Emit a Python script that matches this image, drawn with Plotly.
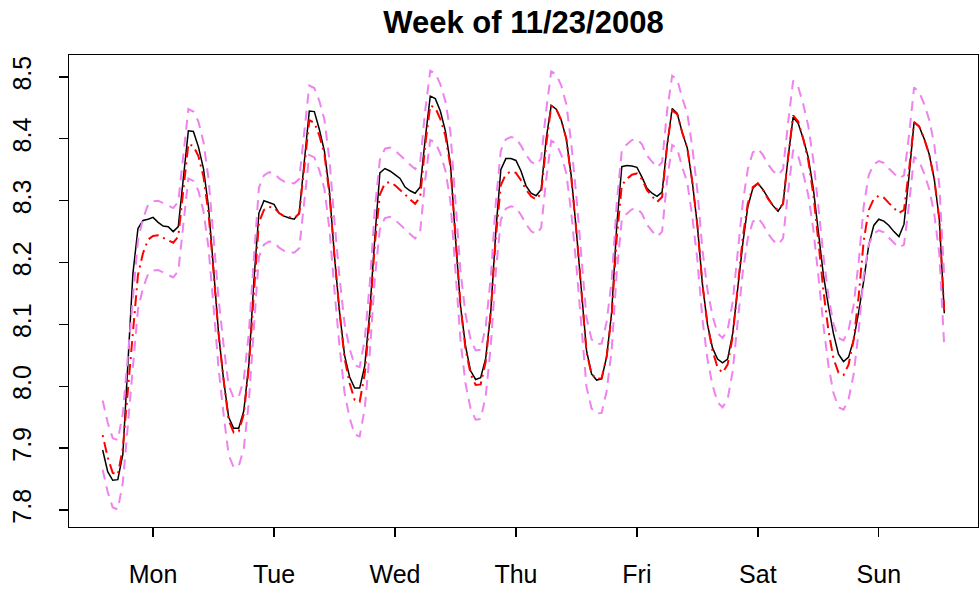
import plotly.graph_objects as go

# Hour index within the week (hourly observations)
hours = list(range(168))

day_ticks = [10, 34, 58, 82, 106, 130, 154]
day_labels = ["Mon", "Tue", "Wed", "Thu", "Fri", "Sat", "Sun"]
y_ticks = [7.8, 7.9, 8.0, 8.1, 8.2, 8.3, 8.4, 8.5]

actual = [
    7.897, 7.862, 7.848, 7.849, 7.890, 8.040, 8.182, 8.255, 8.268, 8.270, 8.273, 8.265,
    8.259, 8.258, 8.250, 8.258, 8.335, 8.413, 8.412, 8.387, 8.352, 8.290, 8.190, 8.085,
    8.010, 7.950, 7.932, 7.932, 7.960, 8.035, 8.170, 8.280, 8.300, 8.297, 8.294, 8.280,
    8.275, 8.272, 8.270, 8.280, 8.365, 8.445, 8.444, 8.415, 8.380, 8.315, 8.210, 8.120,
    8.050, 8.015, 7.997, 7.997, 8.033, 8.120, 8.240, 8.345, 8.352, 8.348, 8.342, 8.336,
    8.322, 8.316, 8.312, 8.322, 8.400, 8.469, 8.465, 8.445, 8.413, 8.360, 8.240, 8.130,
    8.065, 8.025, 8.011, 8.014, 8.045, 8.120, 8.250, 8.350, 8.368, 8.368, 8.365, 8.348,
    8.324, 8.312, 8.308, 8.318, 8.400, 8.454, 8.448, 8.430, 8.400, 8.338, 8.250, 8.150,
    8.058, 8.020, 8.010, 8.012, 8.048, 8.120, 8.260, 8.355, 8.357, 8.356, 8.354, 8.338,
    8.320, 8.312, 8.307, 8.314, 8.390, 8.449, 8.441, 8.410, 8.385, 8.330, 8.260, 8.165,
    8.100, 8.062, 8.044, 8.038, 8.044, 8.085, 8.160, 8.230, 8.290, 8.320, 8.328, 8.318,
    8.305, 8.292, 8.283, 8.295, 8.370, 8.435, 8.425, 8.400, 8.370, 8.320, 8.250, 8.180,
    8.130, 8.085, 8.052, 8.040, 8.047, 8.075, 8.120, 8.170, 8.228, 8.260, 8.270, 8.267,
    8.260, 8.250, 8.242, 8.262, 8.340, 8.427, 8.420, 8.400, 8.375, 8.335, 8.270, 8.118,
]

forecast = [
    7.921, 7.885, 7.860, 7.857, 7.900, 7.990, 8.090, 8.180, 8.215, 8.237, 8.243, 8.244,
    8.240, 8.236, 8.232, 8.242, 8.320, 8.392, 8.388, 8.372, 8.339, 8.280, 8.185, 8.085,
    8.010, 7.945, 7.925, 7.927, 7.955, 8.030, 8.150, 8.265, 8.285, 8.290, 8.289, 8.280,
    8.275, 8.273, 8.272, 8.279, 8.360, 8.430, 8.426, 8.405, 8.375, 8.310, 8.210, 8.120,
    8.045, 8.005, 7.978, 7.975, 8.020, 8.110, 8.230, 8.310, 8.328, 8.330, 8.325, 8.318,
    8.310, 8.302, 8.295, 8.306, 8.390, 8.454, 8.450, 8.432, 8.405, 8.355, 8.240, 8.130,
    8.060, 8.020, 8.002, 8.003, 8.040, 8.120, 8.240, 8.325, 8.343, 8.347, 8.345, 8.333,
    8.318, 8.307, 8.302, 8.312, 8.390, 8.453, 8.448, 8.430, 8.400, 8.335, 8.250, 8.150,
    8.055, 8.020, 8.012, 8.013, 8.048, 8.115, 8.240, 8.325, 8.335, 8.342, 8.344, 8.335,
    8.317, 8.307, 8.298, 8.306, 8.390, 8.446, 8.440, 8.410, 8.385, 8.330, 8.260, 8.165,
    8.100, 8.058, 8.030, 8.022, 8.035, 8.080, 8.160, 8.240, 8.295, 8.322, 8.328, 8.318,
    8.303, 8.292, 8.285, 8.295, 8.370, 8.438, 8.428, 8.400, 8.365, 8.310, 8.235, 8.155,
    8.090, 8.045, 8.022, 8.018, 8.035, 8.075, 8.145, 8.235, 8.285, 8.303, 8.308, 8.305,
    8.296, 8.288, 8.280, 8.285, 8.350, 8.427, 8.420, 8.400, 8.375, 8.335, 8.270, 8.118,
]

upper = [
    7.977, 7.941, 7.916, 7.913, 7.956, 8.046, 8.146, 8.236, 8.271, 8.293, 8.299, 8.300,
    8.296, 8.292, 8.288, 8.298, 8.376, 8.448, 8.444, 8.428, 8.395, 8.336, 8.241, 8.141,
    8.066, 8.001, 7.981, 7.983, 8.011, 8.086, 8.206, 8.321, 8.341, 8.346, 8.345, 8.336,
    8.331, 8.329, 8.328, 8.335, 8.416, 8.486, 8.482, 8.461, 8.431, 8.366, 8.266, 8.176,
    8.101, 8.061, 8.034, 8.031, 8.076, 8.166, 8.286, 8.366, 8.384, 8.386, 8.381, 8.374,
    8.366, 8.358, 8.351, 8.362, 8.446, 8.510, 8.506, 8.488, 8.461, 8.411, 8.296, 8.186,
    8.116, 8.076, 8.058, 8.059, 8.096, 8.176, 8.296, 8.381, 8.399, 8.403, 8.401, 8.389,
    8.374, 8.363, 8.358, 8.368, 8.446, 8.509, 8.504, 8.486, 8.456, 8.391, 8.306, 8.206,
    8.111, 8.076, 8.068, 8.069, 8.104, 8.171, 8.296, 8.381, 8.391, 8.398, 8.400, 8.391,
    8.373, 8.363, 8.354, 8.362, 8.446, 8.502, 8.496, 8.466, 8.441, 8.386, 8.316, 8.221,
    8.156, 8.114, 8.086, 8.078, 8.091, 8.136, 8.216, 8.296, 8.351, 8.378, 8.384, 8.374,
    8.359, 8.348, 8.341, 8.351, 8.426, 8.494, 8.484, 8.456, 8.421, 8.366, 8.291, 8.211,
    8.146, 8.101, 8.078, 8.074, 8.091, 8.131, 8.201, 8.291, 8.341, 8.359, 8.364, 8.361,
    8.352, 8.344, 8.336, 8.341, 8.406, 8.483, 8.476, 8.456, 8.431, 8.391, 8.326, 8.174,
]

lower = [
    7.865, 7.829, 7.804, 7.801, 7.844, 7.934, 8.034, 8.124, 8.159, 8.181, 8.187, 8.188,
    8.184, 8.180, 8.176, 8.186, 8.264, 8.336, 8.332, 8.316, 8.283, 8.224, 8.129, 8.029,
    7.954, 7.889, 7.869, 7.871, 7.899, 7.974, 8.094, 8.209, 8.229, 8.234, 8.233, 8.224,
    8.219, 8.217, 8.216, 8.223, 8.304, 8.374, 8.370, 8.349, 8.319, 8.254, 8.154, 8.064,
    7.989, 7.949, 7.922, 7.919, 7.964, 8.054, 8.174, 8.254, 8.272, 8.274, 8.269, 8.262,
    8.254, 8.246, 8.239, 8.250, 8.334, 8.398, 8.394, 8.376, 8.349, 8.299, 8.184, 8.074,
    8.004, 7.964, 7.946, 7.947, 7.984, 8.064, 8.184, 8.269, 8.287, 8.291, 8.289, 8.277,
    8.262, 8.251, 8.246, 8.256, 8.334, 8.397, 8.392, 8.374, 8.344, 8.279, 8.194, 8.094,
    7.999, 7.964, 7.956, 7.957, 7.992, 8.059, 8.184, 8.269, 8.279, 8.286, 8.288, 8.279,
    8.261, 8.251, 8.242, 8.250, 8.334, 8.390, 8.384, 8.354, 8.329, 8.274, 8.204, 8.109,
    8.044, 8.002, 7.974, 7.966, 7.979, 8.024, 8.104, 8.184, 8.239, 8.266, 8.272, 8.262,
    8.247, 8.236, 8.229, 8.239, 8.314, 8.382, 8.372, 8.344, 8.309, 8.254, 8.179, 8.099,
    8.034, 7.989, 7.966, 7.962, 7.979, 8.019, 8.089, 8.179, 8.229, 8.247, 8.252, 8.249,
    8.240, 8.232, 8.224, 8.229, 8.294, 8.371, 8.364, 8.344, 8.319, 8.279, 8.214, 8.062,
]

FONT = "Liberation Sans, Arial, Helvetica, sans-serif"

fig = go.Figure()
fig.add_trace(go.Scatter(x=hours, y=actual, mode="lines",
                         line=dict(color="black", width=1.5)))
fig.add_trace(go.Scatter(x=hours, y=forecast, mode="lines",
                         line=dict(color="red", width=2, dash="2px,5px,11px,5px")))
fig.add_trace(go.Scatter(x=hours, y=upper, mode="lines",
                         line=dict(color="#EE82EE", width=2, dash="10px,7px")))
fig.add_trace(go.Scatter(x=hours, y=lower, mode="lines",
                         line=dict(color="#EE82EE", width=2, dash="10px,7px")))

fig.update_layout(
    width=979, height=594,
    margin=dict(l=69, r=1, t=55, b=67, autoexpand=False),
    paper_bgcolor="white", plot_bgcolor="white",
    showlegend=False,
    font=dict(family=FONT, size=25, color="black"),
    title=dict(text="<b>Week of 11/23/2008</b>", x=0.5, xref="paper",
               y=1 - 22 / 594, yref="container", yanchor="middle",
               automargin=False,
               font=dict(family=FONT, size=31, color="black")),
)
fig.update_xaxes(range=[-6.68, 173.68], tickmode="array", tickvals=day_ticks,
                 ticktext=day_labels, showgrid=False, zeroline=False,
                 automargin=False, ticklabelstandoff=16,
                 showline=True, mirror=True, linecolor="black", linewidth=1.3,
                 ticks="outside", ticklen=9, tickwidth=1.3, tickcolor="black",
                 tickfont=dict(family=FONT, size=25, color="black"))
fig.update_yaxes(range=[7.7725, 8.5355], tickmode="array", tickvals=y_ticks,
                 ticktext=[f"{v:.1f}" for v in y_ticks], tickangle=-90,
                 showgrid=False, zeroline=False,
                 automargin=False, ticklabelstandoff=18,
                 showline=True, mirror=True, linecolor="black", linewidth=1.3,
                 ticks="outside", ticklen=9, tickwidth=1.3, tickcolor="black",
                 tickfont=dict(family=FONT, size=25, color="black"))

post = (
    "document.documentElement.style.margin='0';"
    "document.documentElement.style.overflow='hidden';"
    "document.body.style.margin='0';document.body.style.padding='0';"
    "document.body.style.overflow='hidden';"
    "Plotly.relayout('{plot_id}', {width: 979, height: 594});"
)
fig.write_html("out.html", post_script=post,
               config={"displayModeBar": False, "staticPlot": True})
